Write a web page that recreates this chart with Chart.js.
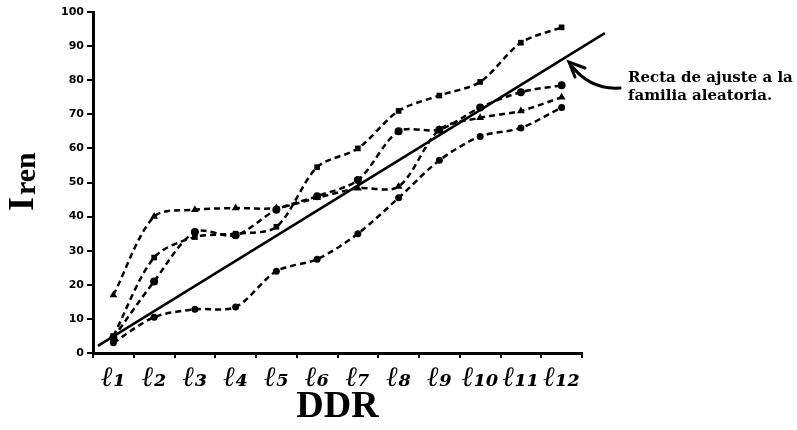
<!DOCTYPE html>
<html>
<head>
<meta charset="utf-8">
<script src="https://cdn.jsdelivr.net/npm/chart.js@4.4.1/dist/chart.umd.min.js"></script>
<style>
  html, body { margin: 0; padding: 0; background: #fff; }
</style>
</head>
<body>
<canvas id="myChart" width="797" height="430"></canvas>
<script>
const ctx = document.getElementById("myChart");

// DDR categories
const labels = ["ℓ₁", "ℓ₂", "ℓ₃", "ℓ₄", "ℓ₅", "ℓ₆", "ℓ₇", "ℓ₈", "ℓ₉", "ℓ₁₀", "ℓ₁₁", "ℓ₁₂"];
const yTicks = [0, 10, 20, 30, 40, 50, 60, 70, 80, 90, 100];

// the four random families
const serieA = [5, 28, 34, 35, 37, 54.5, 60, 71, 75.5, 79.5, 91, 95.5];
const serieB = [4.5, 21, 35.5, 34.5, 42, 46, 50.7, 65, 65.5, 72, 76.5, 78.5];
const serieC = [17, 40, 42, 42.5, 42.5, 45.5, 48.3, 48.8, 65.5, 69, 71, 75];
const serieD = [3, 10.5, 12.8, 13.5, 24, 27.5, 35, 45.5, 56.5, 63.5, 66, 72];

// fitted straight line (x in category units)
const fitX = [-0.38, 12.06];
const fitY = [2.1, 93.8];

const dashed = (data, shape, r) => ({
  data: data,
  borderColor: "#000",
  backgroundColor: "#000",
  borderWidth: 2.5,
  borderDash: [6, 4],
  tension: 0.3,
  pointStyle: shape,
  pointRadius: r,
  pointBorderWidth: 0,
});

const extras = {
  id: "extras",
  afterDraw(chart) {
    const c = chart.ctx;
    c.save();
    c.fillStyle = "#000";
    c.strokeStyle = "#000";

    // y title  I ren
    c.save();
    c.translate(33, 211);
    c.rotate(-Math.PI / 2);
    c.textBaseline = "alphabetic";
    c.font = "bold 36px 'Liberation Serif'";
    c.fillText("I", 0, 0);
    c.font = "bold 30px 'Liberation Serif'";
    c.fillText("ren", 16, 2);
    c.restore();

    // note on the right
    c.font = "bold 15px 'DejaVu Serif'";
    c.textBaseline = "alphabetic";
    c.fillText("Recta de ajuste a la", 628, 82);
    c.fillText("familia aleatoria.", 628, 100);

    // curved arrow
    c.lineWidth = 3;
    c.lineCap = "round";
    c.beginPath();
    c.moveTo(620, 88);
    c.quadraticCurveTo(590, 90, 571, 65);
    c.stroke();
    c.beginPath();
    c.moveTo(575, 77);
    c.lineTo(569, 62);
    c.lineTo(585, 68);
    c.stroke();
    c.restore();
  },
};

new Chart(ctx, {
  type: "line",
  data: {
    labels: labels,
    datasets: [
      dashed(serieA, "rect", 4),
      dashed(serieB, "circle", 4),
      dashed(serieC, "triangle", 4.5),
      dashed(serieD, "circle", 3.5),
      {
        data: fitX.map((x, i) => ({ x: x, y: fitY[i] })),
        xAxisID: "xFit",
        borderColor: "#000",
        borderWidth: 2.5,
        pointRadius: 0,
        tension: 0,
        clip: false,
      },
    ],
  },
  plugins: [extras],
  options: {
    responsive: false,
    animation: false,
    layout: { padding: { top: 12, right: 215, left: 0, bottom: 0 } },
    plugins: {
      legend: { display: false },
      tooltip: { enabled: false },
    },
    scales: {
      x: {
        offset: true,
        grid: { offset: true, drawOnChartArea: false, tickLength: 5, color: "#000", lineWidth: 2 },
        border: { color: "#000", width: 3 },
        ticks: {
          color: "#000",
          padding: 4,
          maxRotation: 0,
          autoSkip: false,
          font: { family: "'DejaVu Serif'", size: 28, weight: "bold", style: "italic" },
        },
        title: {
          display: true,
          text: "DDR",
          color: "#000",
          font: { family: "'Liberation Serif'", size: 38, weight: "bold" },
          padding: 0,
        },
        afterFit: (scale) => { scale.height = 77; },
      },
      xFit: {
        type: "linear",
        display: false,
        min: -0.5,
        max: 11.5,
      },
      y: {
        min: 0,
        max: 100,
        afterBuildTicks: (scale) => { scale.ticks = yTicks.map((v) => ({ value: v })); },
        grid: { drawOnChartArea: false, tickLength: 6, color: "#000", lineWidth: 2 },
        border: { color: "#000", width: 3 },
        ticks: {
          color: "#000",
          padding: 3,
          font: { family: "'DejaVu Sans'", size: 11, weight: "bold" },
        },
        afterFit: (scale) => { scale.width = 93; },
      },
    },
  },
});
</script>
</body>
</html>
